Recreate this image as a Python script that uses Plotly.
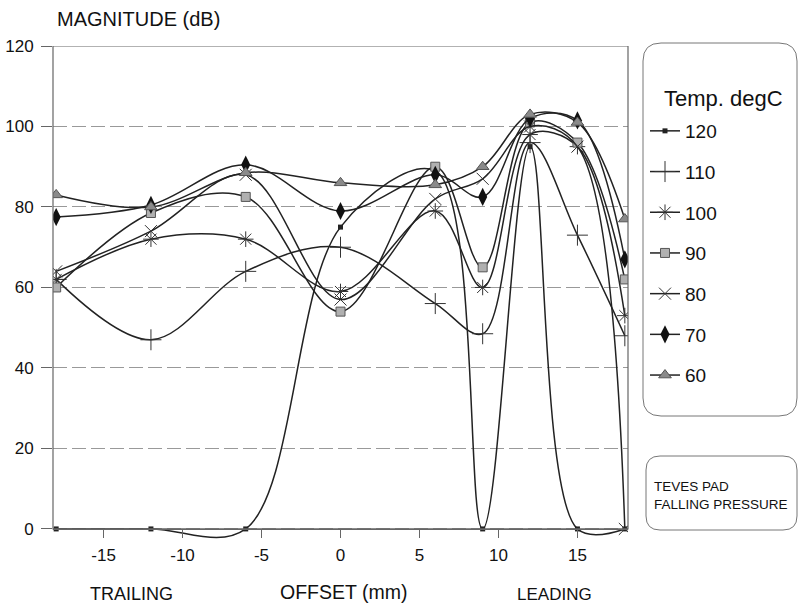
import plotly.graph_objects as go

# Offset positions along the pad (mm)
offset_mm = [-18, -12, -6, 0, 6, 9, 12, 15, 18]

# Magnitude (dB) per temperature
temp_labels = ["120", "110", "100", "90", "80", "70", "60"]
mag_120 = [0, 0, 0, 75, 89, 0, 95, 0, 0]
mag_110 = [62, 47, 64, 70, 56, 48.5, 96, 73, 48]
mag_100 = [62, 72, 72, 59, 79, 60, 98, 95, 53]
mag_90 = [60, 78.5, 82.5, 54, 90, 65, 101, 96, 62]
mag_80 = [64, 74, 88, 57, 82, 87, 100, 95, 0]
mag_70 = [77.5, 80.5, 90.5, 79, 88, 82.5, 102, 101.5, 67]
mag_60 = [83, 80, 88.5, 86, 85.5, 90, 103, 101, 77]

x_ticks = [-15, -10, -5, 0, 5, 10, 15]
y_ticks = [0, 20, 40, 60, 80, 100, 120]

series = [mag_120, mag_110, mag_100, mag_90, mag_80, mag_70, mag_60]
markers = [
    dict(symbol="square", size=5, color="#222"),
    dict(symbol="cross-thin-open", size=15, color="#333", line=dict(width=1, color="#333")),
    dict(symbol="asterisk-open", size=13, color="#333", line=dict(width=1, color="#333")),
    dict(symbol="square", size=9, color="#b0b0b0", line=dict(width=1, color="#555")),
    dict(symbol="x-thin-open", size=12, color="#333", line=dict(width=1, color="#333")),
    dict(symbol="diamond-tall", size=13, color="#111", line=dict(width=0)),
    dict(symbol="triangle-up", size=11, color="#8a8a8a", line=dict(width=1, color="#555")),
]

Y_MIN, Y_MAX = -3, 120
X_MIN, X_MAX = -18.2, 18.2

fig = go.Figure()
for i, (lab, vals, mk) in enumerate(zip(temp_labels, series, markers)):
    fig.add_trace(go.Scatter(
        x=offset_mm, y=vals, name=lab, mode="lines+markers",
        line=dict(color="#222", width=1.5, shape="spline", smoothing=1.0),
        marker=mk, legendgroup=f"g{i}",
    ))


def rounded_box(x0, y0, x1, y1, rx, ry):
    return (f"M {x0+rx},{y0} L {x1-rx},{y0} Q {x1},{y0} {x1},{y0+ry} "
            f"L {x1},{y1-ry} Q {x1},{y1} {x1-rx},{y1} L {x0+rx},{y1} "
            f"Q {x0},{y1} {x0},{y1-ry} L {x0},{y0+ry} Q {x0},{y0} {x0+rx},{y0} Z")


W, H = 798, 608
ml, mr, mt, mb = 53, 170, 46, 67
pw, ph = W - ml - mr, H - mt - mb


def px_x(px):
    return (px - ml) / pw


def px_y(py):
    return (H - mb - py) / ph


shapes = [
    # plot frame from 0 to 120
    dict(type="rect", xref="paper", yref="y", x0=0, x1=1, y0=0, y1=120,
         line=dict(color="#666", width=1.2), layer="above"),
    # legend box
    dict(type="path", xref="paper", yref="paper",
         path=rounded_box(px_x(643), px_y(416), px_x(797), px_y(43), 18 / pw, 18 / ph),
         line=dict(color="#777", width=1)),
    # note box
    dict(type="path", xref="paper", yref="paper",
         path=rounded_box(px_x(646), px_y(530), px_x(797), px_y(456), 14 / pw, 14 / ph),
         line=dict(color="#777", width=1)),
]

font_main = "Liberation Sans, Arial, Helvetica"

annotations = [
    dict(text="MAGNITUDE (dB)", x=px_x(55), y=px_y(19), xref="paper", yref="paper",
         xanchor="left", yanchor="middle", showarrow=False,
         font=dict(family=font_main, size=20, color="#111")),
    dict(text="TRAILING", x=px_x(131), y=px_y(594), xref="paper", yref="paper",
         xanchor="center", yanchor="middle", showarrow=False,
         font=dict(family=font_main, size=18, color="#111")),
    dict(text="OFFSET (mm)", x=px_x(343), y=px_y(592), xref="paper", yref="paper",
         xanchor="center", yanchor="middle", showarrow=False,
         font=dict(family=font_main, size=19.5, color="#111")),
    dict(text="LEADING", x=px_x(554), y=px_y(594), xref="paper", yref="paper",
         xanchor="center", yanchor="middle", showarrow=False,
         font=dict(family=font_main, size=17, color="#111")),
    dict(text="Temp. degC", x=px_x(662), y=px_y(98), xref="paper", yref="paper",
         xanchor="left", yanchor="middle", showarrow=False,
         font=dict(family=font_main, size=22, color="#111")),
    dict(text="TEVES PAD<br>FALLING PRESSURE", x=px_x(652), y=px_y(495),
         xref="paper", yref="paper", xanchor="left", yanchor="middle", align="left",
         showarrow=False, font=dict(family=font_main, size=13.5, color="#111")),
]

fig.update_layout(
    width=W, height=H,
    margin=dict(l=ml, r=mr, t=mt, b=mb, pad=0),
    paper_bgcolor="white", plot_bgcolor="white",
    font=dict(family=font_main, size=16, color="#111"),
    shapes=shapes, annotations=annotations,
    showlegend=True,
    legend=dict(
        x=px_x(645), y=px_y(112), xanchor="left", yanchor="top",
        bgcolor="rgba(0,0,0,0)", borderwidth=0,
        font=dict(family=font_main, size=19, color="#111"),
        traceorder="grouped", tracegroupgap=13, itemwidth=30,
    ),
    xaxis=dict(
        range=[X_MIN, X_MAX], tickvals=x_ticks, ticktext=[str(v) for v in x_ticks],
        ticks="outside", ticklen=8, tickcolor="#666", ticklabelstandoff=3,
        showgrid=False, zeroline=False, showline=True,
        linecolor="#666", linewidth=1.2, automargin=False,
        anchor="free", position=(0 - Y_MIN) / (Y_MAX - Y_MIN),
        tickfont=dict(family=font_main, size=17, color="#111"),
    ),
    yaxis=dict(
        range=[Y_MIN, Y_MAX], tickvals=y_ticks, ticks="outside", ticklen=11,
        tickcolor="#666", ticklabelstandoff=4, automargin=False,
        showgrid=True, gridcolor="#999", griddash="14px,5px",
        gridwidth=1, zeroline=False, showline=False,
        tickfont=dict(family=font_main, size=17, color="#111"),
    ),
)

fig.write_html("out.html")
